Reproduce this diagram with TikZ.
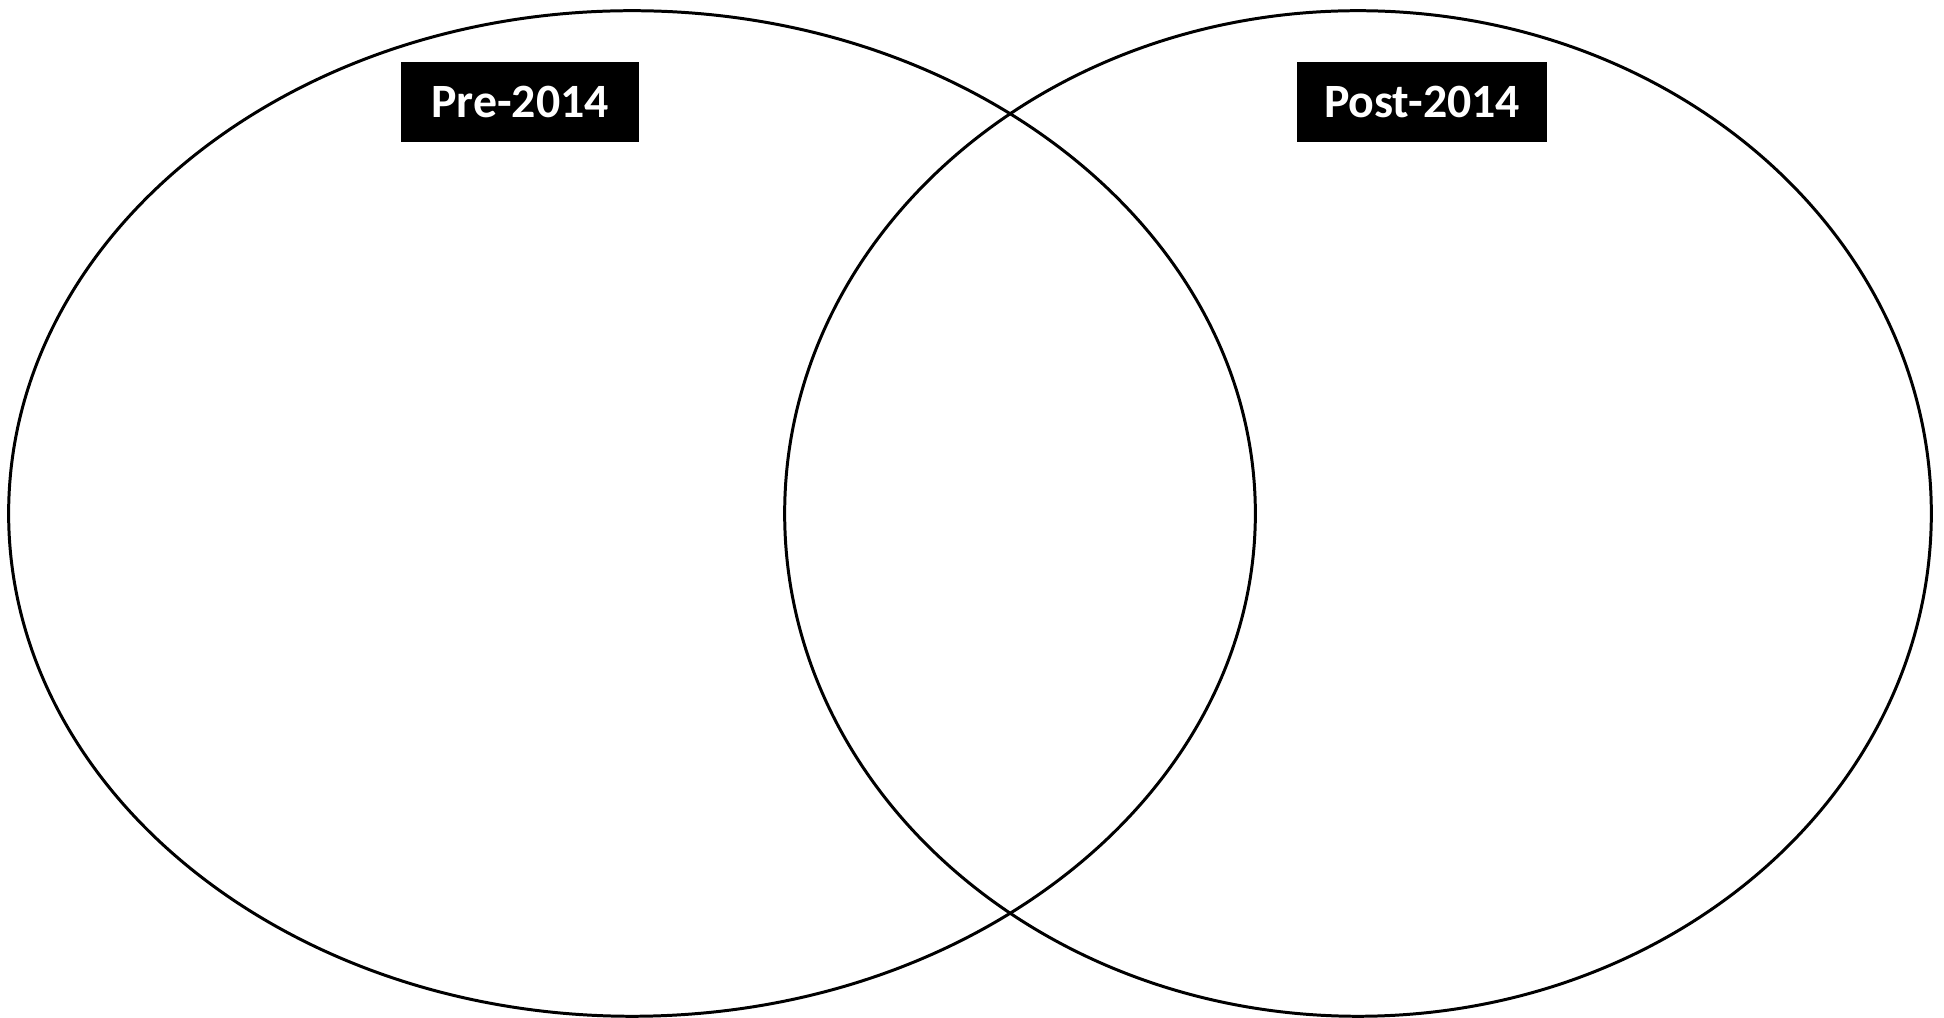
\documentclass[tikz,border=0pt]{standalone}
\usepackage{fontspec}
\setmainfont{Carlito}
\usetikzlibrary{shapes.geometric}

\begin{document}
\begin{tikzpicture}[x=0.01cm,y=0.01cm,
    circ/.style={draw=black,line width=0.85pt,ellipse,inner sep=0pt,minimum height=10.05cm},
    tag/.style={fill=black,text=white,inner sep=0pt,minimum height=0.80cm,
      font=\fontsize{13.6}{16}\selectfont\bfseries}]
  \useasboundingbox (0,0) rectangle (1944,1018);
  \node[circ,minimum width=12.46cm] (pre) at (632,504.5) {};
  \node[circ,minimum width=11.46cm] (post) at (1358,504.5) {};
  \node[tag,minimum width=2.37cm] (pretag) at (520,916) {Pre-2014};
  \node[tag,minimum width=2.50cm] (posttag) at (1422,916) {Post-2014};
\end{tikzpicture}
\end{document}
